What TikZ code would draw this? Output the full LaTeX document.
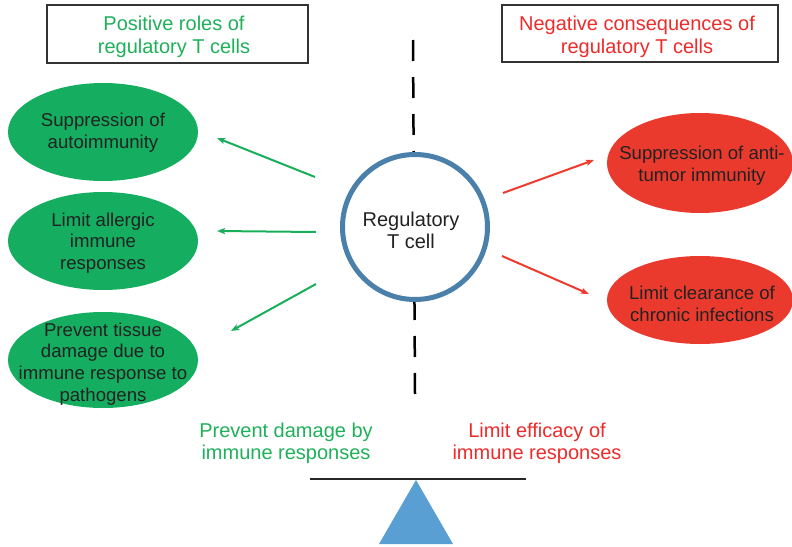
\documentclass[tikz,border=0pt]{standalone}
\usepackage{fontspec}
\setmainfont{Liberation Sans}
\usetikzlibrary{shapes.geometric,arrows.meta}
\definecolor{tgreen}{HTML}{1FB05A}
\definecolor{tred}{HTML}{EE2B2B}
\definecolor{egreen}{HTML}{15AE60}
\definecolor{ered}{HTML}{EA3A2E}
\definecolor{agreen}{HTML}{19AF5A}
\definecolor{ared}{HTML}{EE3B2E}
\definecolor{cellblue}{HTML}{4A80AA}
\definecolor{fulcrum}{HTML}{5A9FD4}
\definecolor{ink}{HTML}{222222}
\begin{document}
\begin{tikzpicture}[x=1pt,y=-1pt,
  titlebox/.style={draw=black!80, line width=1.3pt, inner sep=0pt, fill=white},
  titletext/.style={align=center, inner sep=0pt, font=\fontsize{20}{23}\selectfont},
  blob/.style={ellipse, inner sep=0pt, minimum width=190pt},
  blobtext/.style={align=center, inner sep=0pt, text=ink, font=\fontsize{18.6}{21.7}\selectfont},
  garrow/.style={draw=agreen, line width=2pt, -{Stealth[length=8pt,width=6pt,inset=1.5pt]}},
  rarrow/.style={draw=ared, line width=2pt, -{Stealth[length=8pt,width=6pt,inset=1.5pt]}},
  sidetext/.style={align=center, inner sep=0pt, font=\fontsize{20}{22}\selectfont}]
\useasboundingbox (0,0) rectangle (792,546);

% title boxes
\node[titlebox, minimum width=261pt, minimum height=58pt] (box1) at (177.5,34) {};
\node[titletext, text=tgreen] (title1) at (174,37) {Positive roles of\\regulatory T cells};
\node[titlebox, minimum width=276pt, minimum height=57pt] (box2) at (640,33.5) {};
\node[titletext, text=tred] (title2) at (637,37) {Negative consequences of\\regulatory T cells};

% dashed divider
\coordinate (dtop) at (413,40);
\coordinate (dbot) at (415,394);
\draw[line width=2.5pt, dash pattern=on 21pt off 16pt] (dtop) -- (dbot);

% central cell
\node[circle, draw=cellblue, line width=5pt, fill=white, minimum size=145pt, inner sep=0pt] (tcell) at (415,227) {};
\node[align=center, inner sep=0pt, text=ink, font=\fontsize{20}{22}\selectfont] (tcelltext) at (411,230) {Regulatory\\T cell};

% green ellipses
\node[blob, fill=egreen, minimum height=98pt] (g1) at (103,132) {};
\node[blobtext] (g1t) at (103,133) {Suppression of\\autoimmunity};
\node[blob, fill=egreen, minimum height=98pt] (g2) at (103,241) {};
\node[blobtext] (g2t) at (103,243) {Limit allergic\\immune\\responses};
\node[blob, fill=egreen, minimum height=96pt] (g3) at (103,360) {};
\node[blobtext] (g3t) at (103,364) {Prevent tissue\\damage due to\\immune response to\\pathogens};

% red ellipses
\node[blob, fill=ered, minimum width=186pt, minimum height=100pt] (r1) at (700,163) {};
\node[blobtext] (r1t) at (702,166) {Suppression of anti-\\tumor immunity};
\node[blob, fill=ered, minimum width=186pt, minimum height=88pt] (r2) at (700,300) {};
\node[blobtext] (r2t) at (702,304) {Limit clearance of\\chronic infections};

% arrows
\coordinate (ga1s) at (315,177); \coordinate (ga1e) at (217,138);
\coordinate (ga2s) at (316,232); \coordinate (ga2e) at (217,231);
\coordinate (ga3s) at (316,284); \coordinate (ga3e) at (231,331);
\coordinate (ra1s) at (503,193); \coordinate (ra1e) at (594,160);
\coordinate (ra2s) at (502,256); \coordinate (ra2e) at (589,294);
\draw[garrow] (ga1s) -- (ga1e);
\draw[garrow] (ga2s) -- (ga2e);
\draw[garrow] (ga3s) -- (ga3e);
\draw[rarrow] (ra1s) -- (ra1e);
\draw[rarrow] (ra2s) -- (ra2e);

% bottom labels
\node[sidetext, text=tgreen] (lgreen) at (286,443) {Prevent damage by\\immune responses};
\node[sidetext, text=tred] (lred) at (537,443) {Limit efficacy of\\immune responses};

% balance
\coordinate (bl) at (310,479);
\coordinate (br) at (526,479);
\coordinate (apex) at (416,480);
\coordinate (tl) at (379,544);
\coordinate (tr) at (453,544);
\fill[fulcrum] (apex) -- (tr) -- (tl) -- cycle;
\draw[line width=2.5pt, draw=black!85] (bl) -- (br);
\end{tikzpicture}
\end{document}
